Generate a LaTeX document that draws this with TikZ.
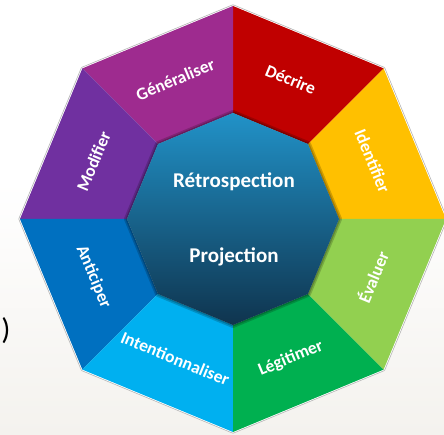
\documentclass[tikz,border=0pt]{standalone}
\usepackage{fontspec}
\setmainfont{Carlito}
\definecolor{cGen}{RGB}{158,43,143}
\definecolor{cDec}{RGB}{192,0,0}
\definecolor{cIde}{RGB}{255,192,0}
\definecolor{cEva}{RGB}{146,208,80}
\definecolor{cLeg}{RGB}{0,176,80}
\definecolor{cInt}{RGB}{0,176,240}
\definecolor{cAnt}{RGB}{0,112,192}
\definecolor{cMod}{RGB}{112,48,160}
\definecolor{cTop}{RGB}{33,146,200}
\definecolor{cBot}{RGB}{15,52,78}
\definecolor{bgc}{RGB}{244,242,238}
\tikzset{
  seglabel/.style={text=white, font=\fontsize{17.5}{20}\selectfont\bfseries, inner sep=0pt},
  centerlabel/.style={text=white, font=\fontsize{21}{24}\selectfont\bfseries, inner sep=0pt},
}
\begin{document}
\begin{tikzpicture}[x=1pt,y=1pt]
\useasboundingbox (0,0) rectangle (444,435);
\fill[white] (0,0) rectangle (444,435);
\shade[top color=white, bottom color=bgc] (0,0) rectangle (444,255);
\node[font=\fontsize{30}{32}\selectfont, inner sep=0pt] (paren) at (6,104) {)};
\begin{scope}[shift={(233,216)}]
  \def\R{213}
  \def\r{106}
  % outer border
  \draw[black!30, line width=3pt, line join=round]
    (0:\R) -- (45:\R) -- (90:\R) -- (135:\R) -- (180:\R) -- (225:\R) -- (270:\R) -- (315:\R) -- cycle;
  \draw[white, line width=1.6pt, line join=round]
    (0:\R) -- (45:\R) -- (90:\R) -- (135:\R) -- (180:\R) -- (225:\R) -- (270:\R) -- (315:\R) -- cycle;
  % segments
  \foreach \a/\c in {0/cIde,45/cDec,90/cGen,135/cMod,180/cAnt,225/cInt,270/cLeg,315/cEva}{
    \fill[\c] (\a:\R) -- (\a+45:\R) -- (\a+45:\r) -- (\a:\r) -- cycle;
  }
  % inner shadow
  \draw[black, opacity=0.18, line width=6pt, line join=round]
    (0:\r) -- (45:\r) -- (90:\r) -- (135:\r) -- (180:\r) -- (225:\r) -- (270:\r) -- (315:\r) -- cycle;
  \draw[black, opacity=0.2, line width=3pt, line join=round]
    (0:\r) -- (45:\r) -- (90:\r) -- (135:\r) -- (180:\r) -- (225:\r) -- (270:\r) -- (315:\r) -- cycle;
  % inner octagon
  \shade[top color=cTop, bottom color=cBot]
    (0:\r) -- (45:\r) -- (90:\r) -- (135:\r) -- (180:\r) -- (225:\r) -- (270:\r) -- (315:\r) -- cycle;
  % labels
  \node[seglabel, rotate=22.5]  (gen) at (112.5:151) {Généraliser};
  \node[seglabel, rotate=-22.5] (dec) at (67.5:151) {Décrire};
  \node[seglabel, rotate=-67.5] (ide) at (22.5:151) {Identifier};
  \node[seglabel, rotate=67.5]  (eva) at (-22.5:151) {Évaluer};
  \node[seglabel, rotate=22.5]  (leg) at (-67.5:151) {Légitimer};
  \node[seglabel, rotate=-22.5] (int) at (-112.5:151) {Intentionnaliser};
  \node[seglabel, rotate=-67.5] (ant) at (-157.5:151) {Anticiper};
  \node[seglabel, rotate=67.5]  (mod) at (157.5:151) {Modifier};
  \node[centerlabel] (retro) at (1,37) {Rétrospection};
  \node[centerlabel] (proj) at (1,-38) {Projection};
\end{scope}
\end{tikzpicture}
\end{document}
